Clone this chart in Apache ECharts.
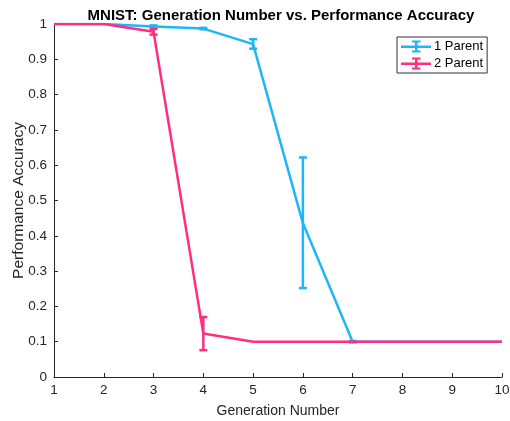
<!DOCTYPE html>
<html><head><meta charset="utf-8">
<script src="https://cdn.jsdelivr.net/npm/echarts@6/dist/echarts.min.js"></script>
<style>html,body{margin:0;padding:0;background:#fff}#c{width:510px;height:421px}</style>
</head><body><div id="c"></div>
<script>
const generations = [1,2,3,4,5,6,7,8,9,10];
const parent1 = [1.0, 1.0, 0.993, 0.987, 0.943, 0.436, 0.100, 0.100, 0.100, 0.100];
const parent1Lo = [1.0, 1.0, 0.990, 0.985, 0.930, 0.252, 0.098, 0.100, 0.100, 0.100];
const parent1Hi = [1.0, 1.0, 0.996, 0.989, 0.957, 0.622, 0.102, 0.100, 0.100, 0.100];
const parent2 = [1.0, 1.0, 0.978, 0.123, 0.100, 0.100, 0.100, 0.100, 0.100, 0.100];
const parent2Lo = [1.0, 1.0, 0.970, 0.076, 0.100, 0.100, 0.100, 0.100, 0.100, 0.100];
const parent2Hi = [1.0, 1.0, 0.986, 0.170, 0.100, 0.100, 0.100, 0.100, 0.100, 0.100];
const yTicks = ['0','0.1','0.2','0.3','0.4','0.5','0.6','0.7','0.8','0.9','1'];
const seriesNames = ['1 Parent', '2 Parent'];

const BLUE = '#1EB6F7', PINK = '#FF2E7E';
const FONT = 'Liberation Sans, Arial, sans-serif';

function errData(lo, hi) {
  const out = [];
  generations.forEach((g, i) => { if (hi[i] - lo[i] > 0.0001) out.push([g, lo[i], hi[i]]); });
  return out;
}
function errRender(color) {
  return function (params, api) {
    const x = api.value(0);
    const lo = api.coord([x, api.value(1)]);
    const hi = api.coord([x, api.value(2)]);
    const w = 4;
    const st = {stroke: color, lineWidth: 2.5};
    return {type: 'group', children: [
      {type: 'line', shape: {x1: lo[0], y1: lo[1], x2: hi[0], y2: hi[1]}, style: st},
      {type: 'line', shape: {x1: lo[0]-w, y1: lo[1], x2: lo[0]+w, y2: lo[1]}, style: st},
      {type: 'line', shape: {x1: hi[0]-w, y1: hi[1], x2: hi[0]+w, y2: hi[1]}, style: st}
    ]};
  };
}
const icon = 'path://M0,5h30v2.5h-30z M14,0h2.5v12h-2.5z M11,0h8.5v2h-8.5z M11,10h8.5v2h-8.5z';

const chart = echarts.init(document.getElementById('c'));
chart.setOption({
  animation: false,
  title: {text: 'MNIST: Generation Number vs. Performance Accuracy', left: 276, textAlign: 'center', top: 3,
    textStyle: {fontFamily: FONT, fontSize: 15, fontWeight: 'bold', color: '#000'}},
  grid: {left: 54, right: 8, top: 24, bottom: 44, containLabel: false, outerBoundsMode: 'none'},
  legend: {
    data: seriesNames.map(n => ({name: n, icon: icon})), orient: 'vertical', left: 397, top: 37,
    itemWidth: 30, itemHeight: 12, itemGap: 4, padding: [3, 4, 3, 4],
    borderColor: '#333', borderWidth: 1, backgroundColor: '#fff',
    textStyle: {fontFamily: FONT, fontSize: 13, color: '#000', padding: [0, 0, 0, -2]}
  },
  xAxis: {
    type: 'value', min: 1, max: 10, interval: 1,
    name: 'Generation Number', nameLocation: 'middle', nameGap: 27, nameMoveOverlap: false,
    nameTextStyle: {fontFamily: FONT, fontSize: 14, color: '#262626'},
    axisLine: {lineStyle: {color: '#262626'}},
    axisTick: {inside: true, length: 4, lineStyle: {color: '#262626'}},
    axisLabel: {fontFamily: FONT, fontSize: 13.5, color: '#262626', margin: 6},
    splitLine: {show: false}
  },
  yAxis: {
    type: 'value', min: 0, max: 1, interval: 0.1,
    name: 'Performance Accuracy', nameLocation: 'middle', nameGap: 27, nameMoveOverlap: false,
    nameTextStyle: {fontFamily: FONT, fontSize: 15.5, color: '#262626'},
    axisLine: {show: true, lineStyle: {color: '#262626'}},
    axisTick: {show: true, inside: true, length: 4, lineStyle: {color: '#262626'}},
    axisLabel: {fontFamily: FONT, fontSize: 13.5, color: '#262626', margin: 7,
      formatter: v => yTicks[Math.round(v * 10)]},
    splitLine: {show: false}
  },
  series: [
    {name: seriesNames[0], type: 'line', data: generations.map((g, i) => [g, parent1[i]]),
      showSymbol: false, lineStyle: {color: BLUE, width: 2.5}, itemStyle: {color: BLUE}, z: 2},
    {name: 'err1', type: 'custom', data: errData(parent1Lo, parent1Hi), renderItem: errRender(BLUE), z: 3},
    {name: seriesNames[1], type: 'line', data: generations.map((g, i) => [g, parent2[i]]),
      showSymbol: false, lineStyle: {color: PINK, width: 2.5}, itemStyle: {color: PINK}, z: 4},
    {name: 'err2', type: 'custom', data: errData(parent2Lo, parent2Hi), renderItem: errRender(PINK), z: 5}
  ]
});
</script></body></html>
